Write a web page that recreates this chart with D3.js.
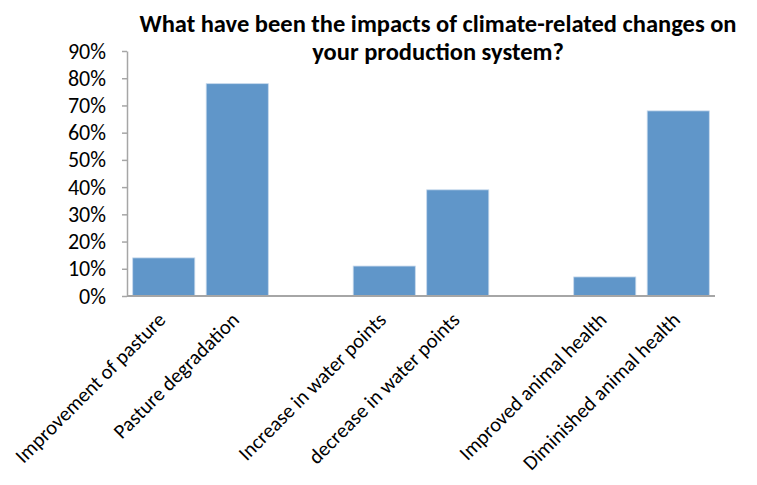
<!DOCTYPE html>
<html>
<head>
<meta charset="utf-8">
<script src="https://cdn.jsdelivr.net/npm/d3@7"></script>
<style>
  body { margin: 0; background: #fff; }
  text { font-family: Carlito, Lato, sans-serif; fill: #000; }
</style>
</head>
<body>
<div id="chart"></div>
<script>
const categories = [
  'Improvement of pasture', 'Pasture degradation', '',
  'Increase in water points', 'decrease in water points', ' ',
  'Improved animal health', 'Diminished animal health'
];
const values = [0.14, 0.78, null, 0.11, 0.39, null, 0.07, 0.68];
const yTicks = [0, 0.1, 0.2, 0.3, 0.4, 0.5, 0.6, 0.7, 0.8, 0.9];
const titleLines = ['What have been the impacts of climate-related changes on', 'your production system?'];

let w = 757;
let h = 485;
let plotLeft = 127, plotRight = 715, plotTop = 51, plotBottom = 296;

let svg = d3.select('#chart').
append('svg').
attr('width', w).
attr('height', h);

let xScale = d3.scaleBand().
domain(categories).
range([plotLeft, plotRight]).
paddingInner(0.155).
paddingOuter(0.0775);

let yScale = d3.scaleLinear().
domain([0, 0.9]).
range([plotBottom, plotTop]);

// bars
svg.selectAll('rect.bar').
data(categories.map((c, i) => ({ c: c, v: values[i] })).filter(d => d.v != null)).
enter().
append('rect').
attr('class', 'bar').
attr('x', d => xScale(d.c)).
attr('width', xScale.bandwidth()).
attr('y', d => yScale(d.v)).
attr('height', d => yScale(0) - yScale(d.v)).
attr('fill', '#6096c9').
attr('stroke', '#c6d8ec').
attr('stroke-width', 0.8);

// y axis
let yAxis = d3.axisLeft(yScale).
tickValues(yTicks).
tickFormat(d3.format('.0%')).
tickSize(5).
tickSizeOuter(0).
tickPadding(16);

let gy = svg.append('g').
attr('transform', 'translate(' + plotLeft + ',0)').
call(yAxis);
gy.select('.domain').attr('stroke', '#a6a6a6').attr('stroke-width', 1.5);
gy.selectAll('.tick line').attr('stroke', '#a6a6a6').attr('stroke-width', 1.5);
gy.selectAll('.tick text').
style('font-size', '22px').
style('font-family', 'Carlito, Lato, sans-serif').
attr('fill', '#000');

// x axis line
svg.append('line').
attr('x1', plotLeft).
attr('x2', plotRight).
attr('y1', plotBottom).
attr('y2', plotBottom).
attr('stroke', '#a6a6a6').
attr('stroke-width', 2);

// category labels
svg.selectAll('text.cat').
data(categories.filter(c => c.trim() !== '')).
enter().
append('text').
attr('class', 'cat').
attr('transform', d => 'translate(' + (xScale(d) + xScale.bandwidth() / 2 - 2) + ',' + (plotBottom + 20) + ') rotate(-45)').
attr('text-anchor', 'end').
attr('dy', '0.35em').
style('font-size', '20.5px').
text(d => d);

// title
svg.append('g').
selectAll('text').
data(titleLines).
enter().
append('text').
attr('x', 438).
attr('y', (d, i) => 32 + i * 28).
attr('text-anchor', 'middle').
style('font-size', '24.5px').
style('font-weight', 'bold').
text(d => d);
</script>
</body>
</html>
